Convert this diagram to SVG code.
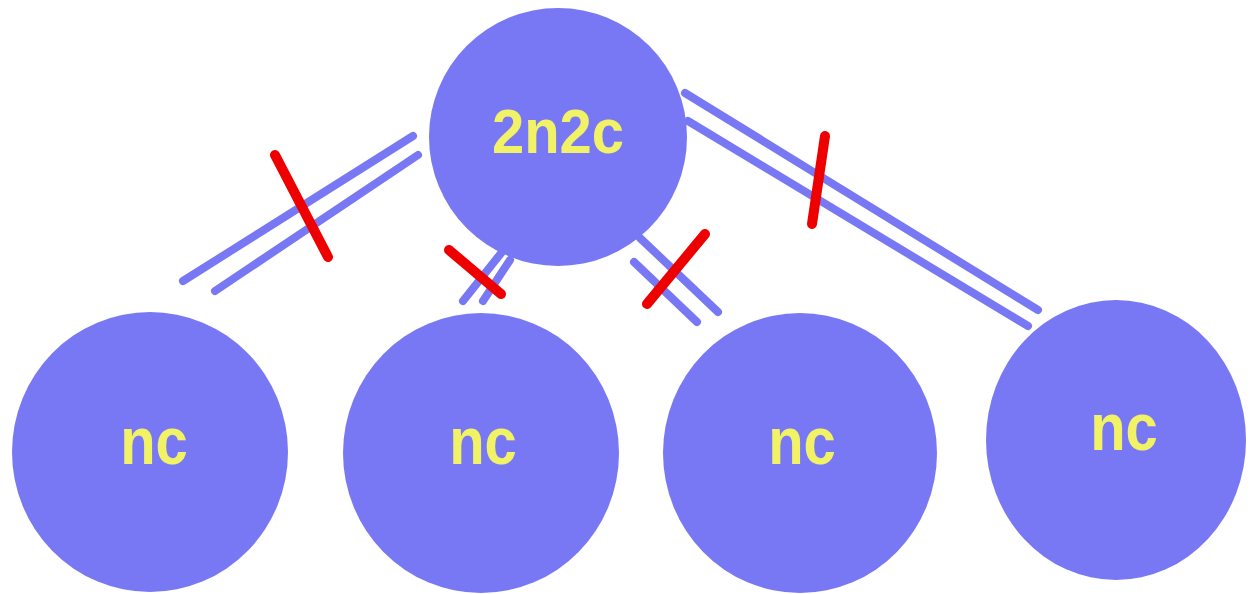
<svg xmlns="http://www.w3.org/2000/svg" width="1255" height="594" viewBox="0 0 1255 594">
<style>
.node{fill:#7878F5}
.lbl{fill:#F2F266;font-family:"Liberation Sans",Arial,sans-serif;font-weight:bold;font-size:58px;text-anchor:middle}
.link{stroke:#7878F5;stroke-width:8;stroke-linecap:round;fill:none}
.cut{stroke:#EE0000;stroke-width:10;stroke-linecap:round;fill:none}
</style>
<rect width="1255" height="594" fill="#ffffff"/>
<g id="connectors">
<line class="link" x1="183" y1="281" x2="413" y2="136"/>
<line class="link" x1="215" y1="291" x2="418" y2="155"/>
<line class="cut" x1="275" y1="155" x2="328" y2="257"/>
<line class="link" x1="463" y1="301" x2="502" y2="252"/>
<line class="link" x1="483" y1="301" x2="510" y2="260"/>
<line class="cut" x1="449" y1="250" x2="501" y2="294"/>
<line class="link" x1="640" y1="238" x2="718" y2="312"/>
<line class="link" x1="634" y1="262" x2="697" y2="322"/>
<line class="cut" x1="705" y1="234" x2="647" y2="304"/>
<line class="link" x1="685" y1="93" x2="1038" y2="310"/>
<line class="link" x1="688" y1="121" x2="1028" y2="326"/>
<line class="cut" x1="825" y1="136" x2="812" y2="224"/>
</g>
<g id="node-top">
<circle class="node" cx="558" cy="137" r="129"/>
<text class="lbl" transform="translate(558,153) scale(1,1.1)">2n2c</text>
</g>
<g id="node-1">
<ellipse class="node" cx="150" cy="452" rx="138" ry="140"/>
<text class="lbl" transform="translate(154,464) scale(1,1.15)">nc</text>
</g>
<g id="node-2">
<ellipse class="node" cx="481" cy="453" rx="138" ry="140"/>
<text class="lbl" transform="translate(483,464) scale(1,1.15)">nc</text>
</g>
<g id="node-3">
<ellipse class="node" cx="800" cy="453" rx="137" ry="140"/>
<text class="lbl" transform="translate(802,464) scale(1,1.15)">nc</text>
</g>
<g id="node-4">
<ellipse class="node" cx="1116" cy="440" rx="130" ry="140"/>
<text class="lbl" transform="translate(1124,450) scale(1,1.15)">nc</text>
</g>
</svg>
